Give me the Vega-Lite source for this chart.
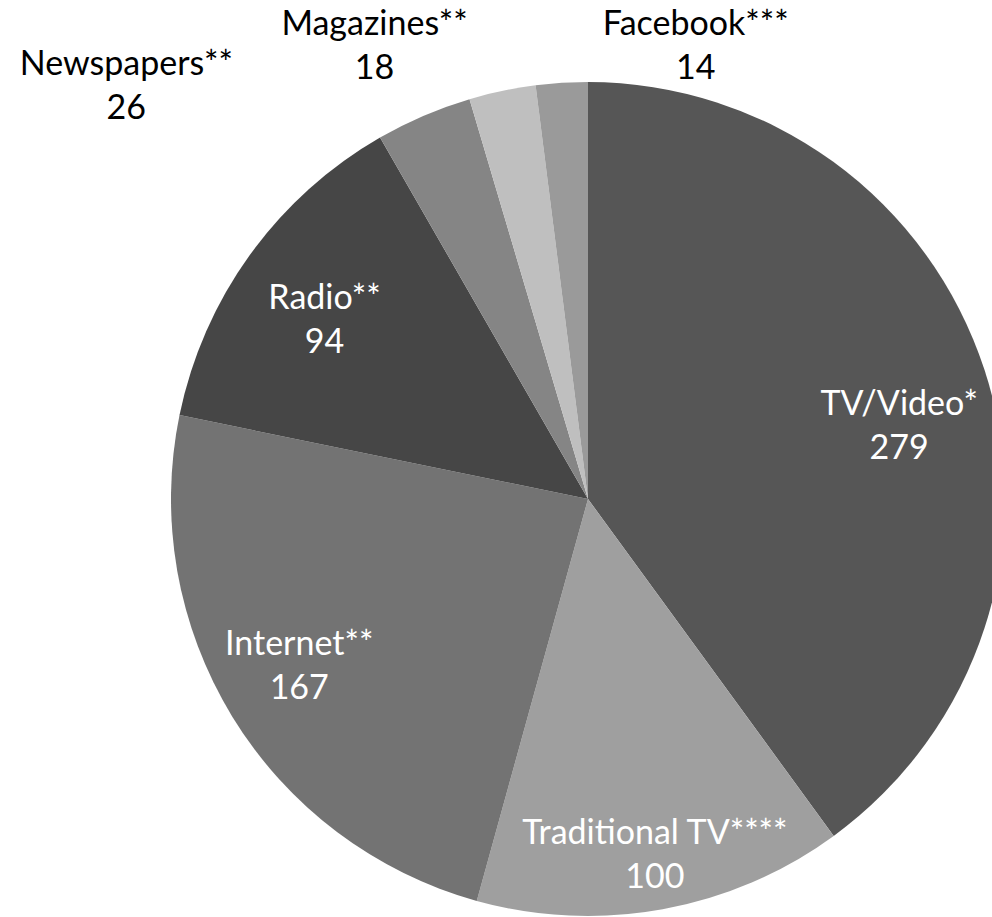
{
  "$schema": "https://vega.github.io/schema/vega-lite/v6.json",
  "width": 808,
  "height": 834,
  "autosize": "none",
  "padding": {"left": 184, "top": 82, "right": 0, "bottom": 1},
  "background": "white",
  "view": {"stroke": null},
  "data": {
    "values": [
      {"medium": "TV/Video*", "minutes": 279},
      {"medium": "Traditional TV****", "minutes": 100},
      {"medium": "Internet**", "minutes": 167},
      {"medium": "Radio**", "minutes": 94},
      {"medium": "Newspapers**", "minutes": 26},
      {"medium": "Magazines**", "minutes": 18},
      {"medium": "Facebook***", "minutes": 14}
    ]
  },
  "transform": [{"window": [{"op": "row_number", "as": "slice_order"}]}],
  "encoding": {
    "theta": {"field": "minutes", "type": "quantitative", "stack": true},
    "order": {"field": "slice_order", "type": "quantitative", "sort": "ascending"},
    "color": {
      "field": "medium",
      "type": "nominal",
      "scale": {
        "domain": ["TV/Video*", "Traditional TV****", "Internet**", "Radio**", "Newspapers**", "Magazines**", "Facebook***"],
        "range": ["#565656", "#9f9f9f", "#737373", "#464646", "#858585", "#bfbfbf", "#9a9a9a"]
      },
      "legend": null
    }
  },
  "layer": [
    {"mark": {"type": "arc", "radius": 417, "strokeWidth": 0}},
    {"mark": {"type": "text", "radius": 322, "dx": 5, "dy": 16, "font": "Lato", "fontSize": 34, "baseline": "alphabetic", "align": "center"},
     "encoding": {"color": {"value": "white"}, "text": {"condition": {"test": "datum.medium === 'TV/Video*'", "field": "medium"}, "value": ""}}},
    {"mark": {"type": "text", "radius": 322, "dx": 5, "dy": 60, "font": "Lato", "fontSize": 34, "baseline": "alphabetic", "align": "center"},
     "encoding": {"color": {"value": "white"}, "text": {"condition": {"test": "datum.medium === 'TV/Video*'", "field": "minutes"}, "value": ""}}},
    {"mark": {"type": "text", "radius": 351, "dx": 4, "dy": 0, "font": "Lato", "fontSize": 34, "baseline": "alphabetic", "align": "center"},
     "encoding": {"color": {"value": "white"}, "text": {"condition": {"test": "datum.medium === 'Traditional TV****'", "field": "medium"}, "value": ""}}},
    {"mark": {"type": "text", "radius": 351, "dx": 4, "dy": 44, "font": "Lato", "fontSize": 34, "baseline": "alphabetic", "align": "center"},
     "encoding": {"color": {"value": "white"}, "text": {"condition": {"test": "datum.medium === 'Traditional TV****'", "field": "minutes"}, "value": ""}}},
    {"mark": {"type": "text", "radius": 328, "dx": -9, "dy": -15, "font": "Lato", "fontSize": 34, "baseline": "alphabetic", "align": "center"},
     "encoding": {"color": {"value": "white"}, "text": {"condition": {"test": "datum.medium === 'Internet**'", "field": "medium"}, "value": ""}}},
    {"mark": {"type": "text", "radius": 328, "dx": -9, "dy": 29, "font": "Lato", "fontSize": 34, "baseline": "alphabetic", "align": "center"},
     "encoding": {"color": {"value": "white"}, "text": {"condition": {"test": "datum.medium === 'Internet**'", "field": "minutes"}, "value": ""}}},
    {"mark": {"type": "text", "radius": 325, "dx": 0, "dy": 0, "font": "Lato", "fontSize": 34, "baseline": "alphabetic", "align": "center"},
     "encoding": {"color": {"value": "white"}, "text": {"condition": {"test": "datum.medium === 'Radio**'", "field": "medium"}, "value": ""}}},
    {"mark": {"type": "text", "radius": 325, "dx": 0, "dy": 44, "font": "Lato", "fontSize": 34, "baseline": "alphabetic", "align": "center"},
     "encoding": {"color": {"value": "white"}, "text": {"condition": {"test": "datum.medium === 'Radio**'", "field": "minutes"}, "value": ""}}},
    {"mark": {"type": "text", "radius": 461, "dx": -280, "dy": 0, "font": "Lato", "fontSize": 34, "baseline": "alphabetic", "align": "center"},
     "encoding": {"color": {"value": "black"}, "text": {"condition": {"test": "datum.medium === 'Newspapers**'", "field": "medium"}, "value": ""}}},
    {"mark": {"type": "text", "radius": 461, "dx": -280, "dy": 44, "font": "Lato", "fontSize": 34, "baseline": "alphabetic", "align": "center"},
     "encoding": {"color": {"value": "black"}, "text": {"condition": {"test": "datum.medium === 'Newspapers**'", "field": "minutes"}, "value": ""}}},
    {"mark": {"type": "text", "radius": 474, "dx": -116, "dy": 0, "font": "Lato", "fontSize": 34, "baseline": "alphabetic", "align": "center"},
     "encoding": {"color": {"value": "black"}, "text": {"condition": {"test": "datum.medium === 'Magazines**'", "field": "medium"}, "value": ""}}},
    {"mark": {"type": "text", "radius": 474, "dx": -116, "dy": 44, "font": "Lato", "fontSize": 34, "baseline": "alphabetic", "align": "center"},
     "encoding": {"color": {"value": "black"}, "text": {"condition": {"test": "datum.medium === 'Magazines**'", "field": "minutes"}, "value": ""}}},
    {"mark": {"type": "text", "radius": 465, "dx": 137, "dy": 0, "font": "Lato", "fontSize": 34, "baseline": "alphabetic", "align": "center"},
     "encoding": {"color": {"value": "black"}, "text": {"condition": {"test": "datum.medium === 'Facebook***'", "field": "medium"}, "value": ""}}},
    {"mark": {"type": "text", "radius": 465, "dx": 137, "dy": 44, "font": "Lato", "fontSize": 34, "baseline": "alphabetic", "align": "center"},
     "encoding": {"color": {"value": "black"}, "text": {"condition": {"test": "datum.medium === 'Facebook***'", "field": "minutes"}, "value": ""}}}
  ]
}
